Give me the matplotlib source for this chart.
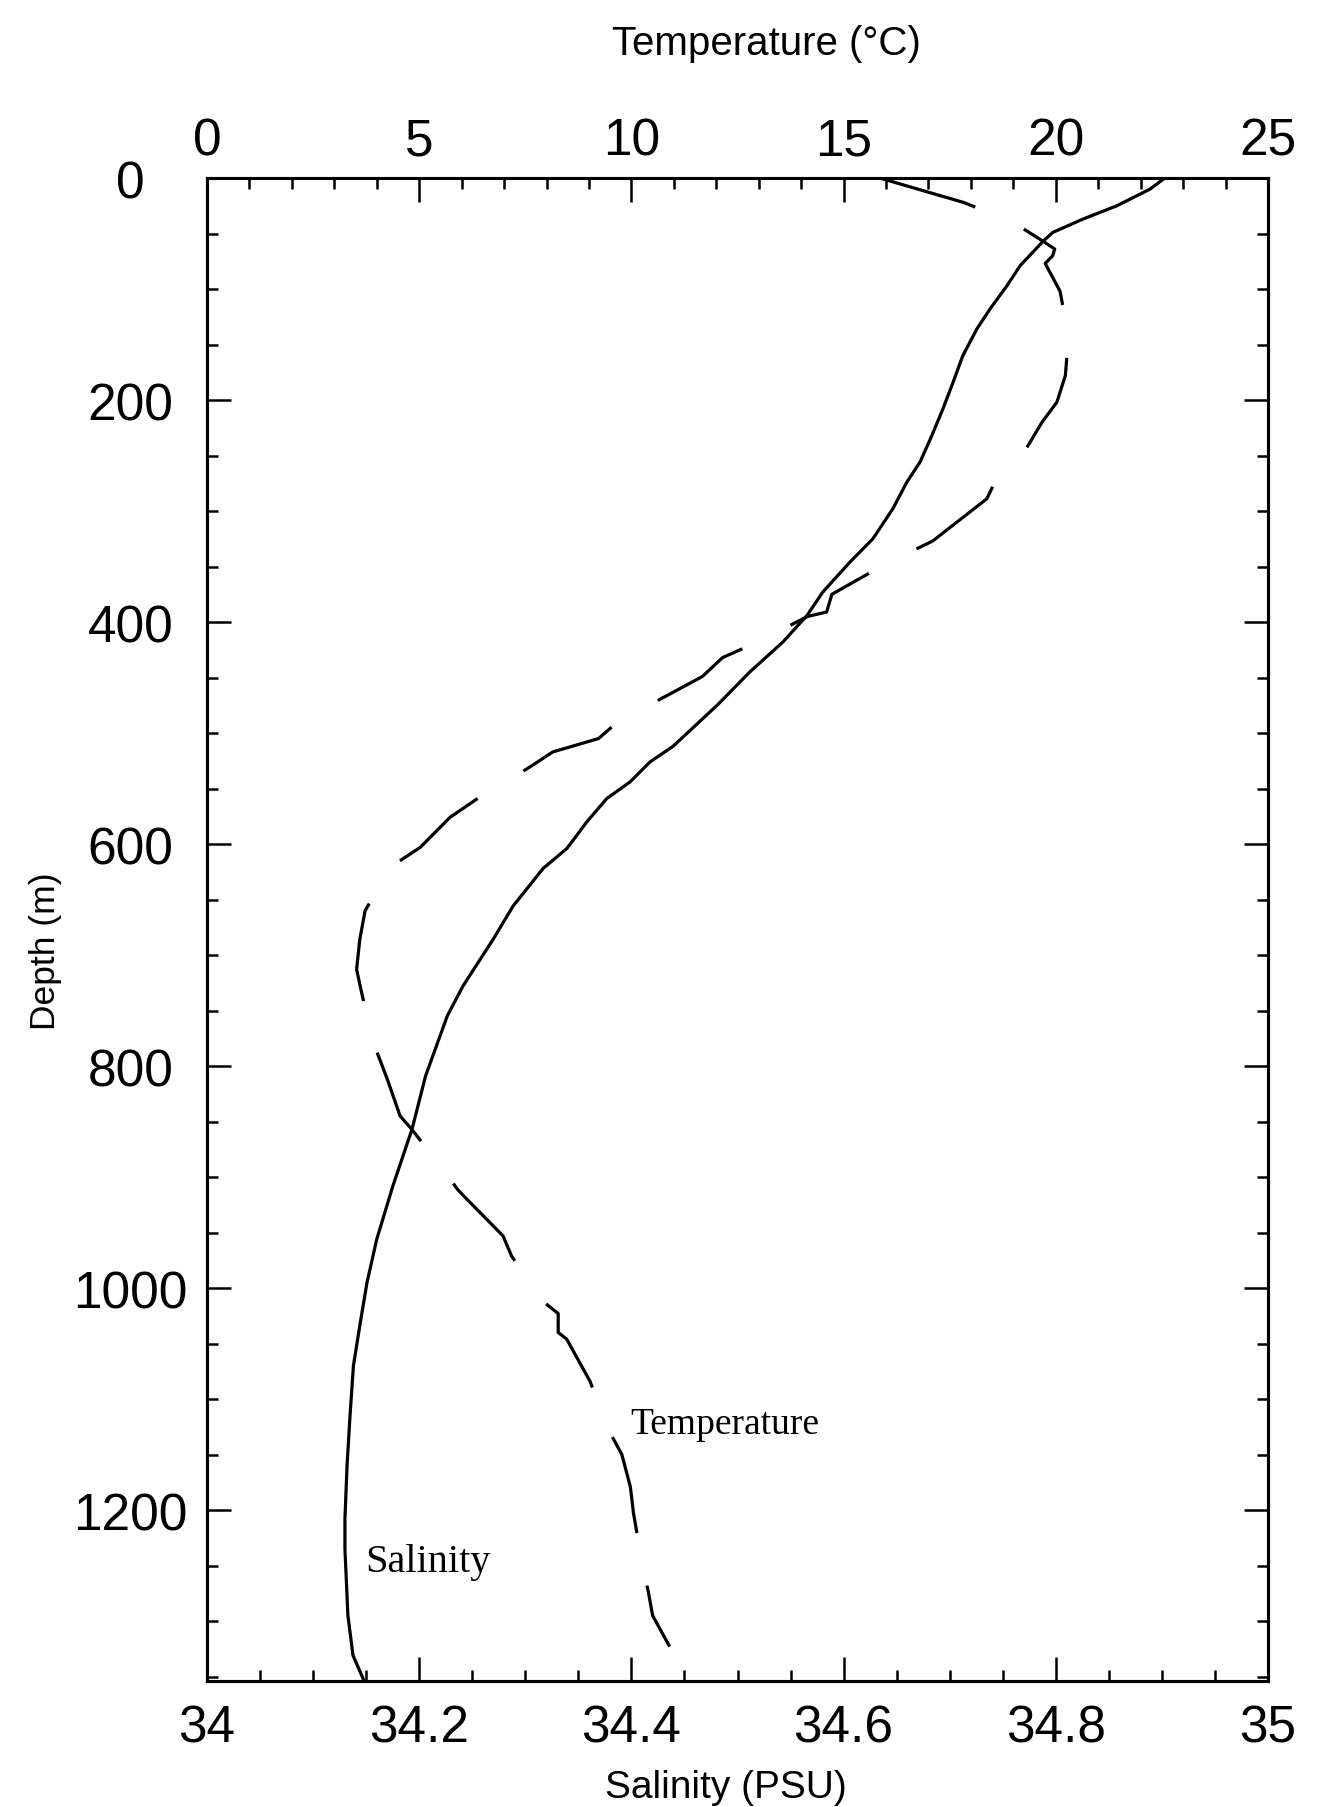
import matplotlib
matplotlib.use("Agg")
import matplotlib.pyplot as plt
from matplotlib.ticker import MultipleLocator

# solid profile, read against the top axis (deg C)
solid_depth = [0, 10, 25, 37, 49, 57, 79, 97, 118, 136, 160, 184, 208, 232,
               256, 274, 298, 325, 346, 373, 394, 418, 445, 475, 512, 526,
               544, 559, 580, 604, 622, 656, 686, 728, 755, 809, 857, 908,
               956, 995, 1034, 1070, 1115, 1160, 1208, 1235, 1295, 1331, 1352]
solid_temp = [22.57, 22.22, 21.44, 20.64, 19.93, 19.70, 19.16, 18.85, 18.45,
              18.14, 17.81, 17.58, 17.34, 17.08, 16.80, 16.49, 16.16, 15.69,
              15.15, 14.51, 14.14, 13.57, 12.79, 12.02, 10.98, 10.44, 9.97,
              9.42, 8.95, 8.48, 7.92, 7.21, 6.74, 6.03, 5.66, 5.15, 4.83,
              4.38, 4.00, 3.77, 3.60, 3.45, 3.37, 3.30, 3.25, 3.25, 3.32,
              3.44, 3.68]

# dashed profile, read against the bottom axis (PSU)
dashed_depth = [0, 22, 40, 57, 64, 70, 77, 102, 143, 178, 202, 220, 260, 273,
                289, 327, 348, 375, 391, 395, 418, 432, 449, 465, 490, 505,
                517, 532, 559, 576, 603, 620, 660, 686, 713, 735, 777, 812,
                845, 857, 895, 911, 920, 953, 971, 1010, 1023, 1040, 1046,
                1084, 1127, 1150, 1179, 1203, 1247, 1274, 1295, 1323]
dashed_sal = [34.634, 34.713, 34.760, 34.788, 34.799, 34.797, 34.790, 34.804,
              34.812, 34.809, 34.801, 34.787, 34.762, 34.743, 34.735, 34.684,
              34.639, 34.589, 34.584, 34.566, 34.519, 34.486, 34.467, 34.436,
              34.387, 34.369, 34.326, 34.302, 34.255, 34.229, 34.201, 34.174,
              34.149, 34.144, 34.141, 34.146, 34.156, 34.170, 34.182, 34.193,
              34.224, 34.236, 34.245, 34.279, 34.287, 34.314, 34.331, 34.331,
              34.339, 34.361, 34.378, 34.391, 34.399, 34.402, 34.410, 34.416,
              34.420, 34.436]

plt.rcParams["font.family"] = ["Liberation Sans", "DejaVu Sans"]
plt.rcParams["lines.scale_dashes"] = False

W, H = 1322, 1808
fig = plt.figure(figsize=(W / 100, H / 100), dpi=100)
ax = fig.add_axes([207 / W, 1 - 1682 / H, 1061 / W, 1503 / H])
ax2 = ax.twiny()

ax.plot(dashed_sal, dashed_depth, color="black", lw=2.3,
        linestyle=(0, (72, 38.5)), dash_capstyle="butt")
ax2.plot(solid_temp, solid_depth, color="black", lw=2.3)

ax.set_xlim(34, 35)
ax.set_ylim(1354, 0)
ax2.set_xlim(0, 25)

ax.xaxis.set_major_locator(MultipleLocator(0.2))
ax.xaxis.set_minor_locator(MultipleLocator(0.05))
ax.yaxis.set_major_locator(MultipleLocator(200))
ax.yaxis.set_minor_locator(MultipleLocator(50))
ax2.xaxis.set_major_locator(MultipleLocator(5))
ax2.xaxis.set_minor_locator(MultipleLocator(1))
ax.xaxis.set_major_formatter(plt.FuncFormatter(lambda v, p: f"{v:g}"))

for a in (ax, ax2):
    a.tick_params(which="both", direction="in", width=1.8)
    a.tick_params(which="major", length=17)
    a.tick_params(which="minor", length=8)
    for s in a.spines.values():
        s.set_linewidth(2.2)

ax.tick_params(axis="y", which="both", left=True, right=True)
ax.tick_params(axis="x", labelsize=37, pad=16)
ax.tick_params(axis="y", labelsize=37, pad=55)
ax2.tick_params(axis="x", labelsize=37, pad=9)
for lbl in ax.get_yticklabels():
    lbl.set_horizontalalignment("center")

serif = ["Liberation Serif", "DejaVu Serif"]
ax.text(34.399, 1131, "Temperature", family=serif, fontsize=27,
        ha="left", va="baseline")
ax.text(34.149, 1255, "Salinity", family=serif, fontsize=29,
        ha="left", va="baseline")

fig.text(766 / W, 1 - 55 / H, "Temperature (°C)", fontsize=29,
         ha="center", va="baseline")
fig.text(726 / W, 1 - 1798 / H, "Salinity (PSU)", fontsize=28,
         ha="center", va="baseline")
fig.text(46 / W, 1 - 951 / H, "Depth (m)", fontsize=25.5, rotation=90,
         ha="center", va="center")

fig.savefig("out.png", dpi=100)
